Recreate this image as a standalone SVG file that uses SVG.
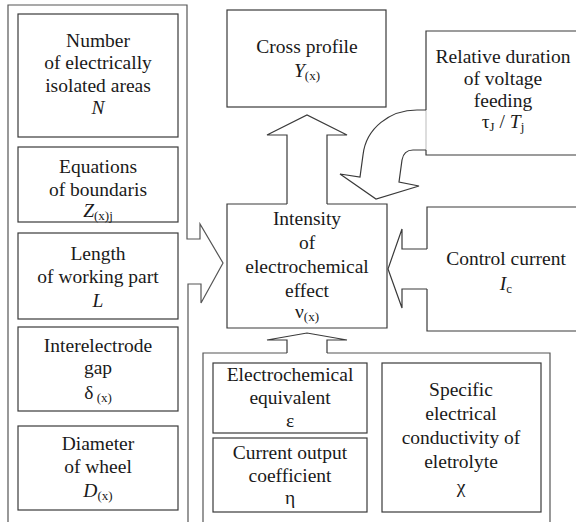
<svg xmlns="http://www.w3.org/2000/svg" width="576" height="522" viewBox="0 0 576 522" font-family="Liberation Serif, Times New Roman, serif">
<style>
.b{fill:none;stroke:#3a3a3a;stroke-width:1.2}
.f{fill:none;stroke:#555;stroke-width:1.2}
text{font-size:19.5px;fill:#1a1a1a;text-anchor:middle}
.i{font-style:italic}
.s{font-size:13px}
</style>
<rect width="576" height="522" fill="#fff"/>
<g id="left-frame">
<path class="f" d="M8,522 V5 H187 V239 H200 V224 L223,263 L201,303 V284 H188 V522"/>
</g>
<g id="n-number">
<rect class="b" x="18" y="14" width="160" height="123"/>
<text x="98" y="47">Number</text>
<text x="98" y="69">of electrically</text>
<text x="98" y="92">isolated areas</text>
<text x="98" y="114" class="i">N</text>
</g>
<g id="n-equations">
<rect class="b" x="18" y="147" width="160" height="75"/>
<text x="98" y="173">Equations</text>
<text x="98" y="196">of boundaris</text>
<text x="98" y="217"><tspan class="i">Z</tspan><tspan class="s" dy="3">(x)j</tspan></text>
</g>
<g id="n-length">
<rect class="b" x="18" y="233" width="160" height="86"/>
<text x="98" y="260">Length</text>
<text x="98" y="283">of working part</text>
<text x="98" y="307" class="i">L</text>
</g>
<g id="n-gap">
<rect class="b" x="18" y="327" width="160" height="84"/>
<text x="98" y="352">Interelectrode</text>
<text x="98" y="374">gap</text>
<text x="98" y="399">δ<tspan class="s" dy="3"> (x)</tspan></text>
</g>
<g id="n-diameter">
<rect class="b" x="18" y="426" width="160" height="84"/>
<text x="98" y="450">Diameter</text>
<text x="98" y="473">of wheel</text>
<text x="98" y="497"><tspan class="i">D</tspan><tspan class="s" dy="3">(x)</tspan></text>
</g>
<g id="n-cross">
<rect class="b" x="227" y="10" width="159" height="97"/>
<text x="307" y="53">Cross  profile</text>
<text x="307" y="77"><tspan class="i">Y</tspan><tspan class="s" dy="3">(x)</tspan></text>
</g>
<g id="n-relative">
<path class="b" d="M576,31 H426 V110 M426,150 V155 H576"/>
<path d="M426,110 V150" stroke="#bbb" stroke-width="1" fill="none"/>
<text x="503" y="63">Relative duration</text>
<text x="503" y="85">of voltage</text>
<text x="503" y="107">feeding</text>
<text x="503" y="128">τ<tspan class="s" dy="3">J</tspan><tspan dy="-3"> / </tspan><tspan class="i">T</tspan><tspan class="s" dy="3">j</tspan></text>
</g>
<g id="n-intensity">
<path class="b" d="M287,204 H227 V328 H387 V204 H327"/>
<text x="307" y="225">Intensity</text>
<text x="307" y="249">of</text>
<text x="307" y="273">electrochemical</text>
<text x="307" y="297">effect</text>
<text x="307" y="318">ν<tspan class="s" dy="3">(x)</tspan></text>
</g>
<g id="n-control">
<path class="b" d="M576,207 H427 V249 M427,289 V331 H576"/>
<text x="506" y="265">Control current</text>
<text x="506" y="290"><tspan class="i">I</tspan><tspan class="s" dy="3">c</tspan></text>
</g>
<g id="bottom-frame">
<path class="f" d="M203,522 V353 H287 M327,353 H550 V522"/>
</g>
<g id="n-equivalent">
<rect class="b" x="213" y="363" width="154" height="70"/>
<text x="290" y="381">Electrochemical</text>
<text x="290" y="404">equivalent</text>
<text x="290" y="427">ε</text>
</g>
<g id="n-coefficient">
<rect class="b" x="213" y="438" width="154" height="74"/>
<text x="290" y="459">Current output</text>
<text x="290" y="482">coefficient</text>
<text x="290" y="504">η</text>
</g>
<g id="n-conductivity">
<rect class="b" x="382" y="363" width="159" height="149"/>
<text x="461" y="396">Specific</text>
<text x="461" y="420">electrical</text>
<text x="461" y="444">conductivity of</text>
<text x="461" y="468">eletrolyte</text>
<text x="461" y="493">χ</text>
</g>
<g id="connectors">
<path class="b" d="M287,204 V135 H267 L307,115 L347,135 H327 V204"/>
<path class="b" d="M427,249 H402 V229 L388,269 L402,308 V289 H427"/>
<path class="b" d="M287,353 V340 H267 L307,333 L347,340 H327 V353"/>
<path class="b" d="M426,110 H417 C390,110 366,128 363,155 L360,177 L340,174 L376,199 L419,186 L399,182 L402,160 C403,154 406,150 413,150 H426"/>
</g>
</svg>
